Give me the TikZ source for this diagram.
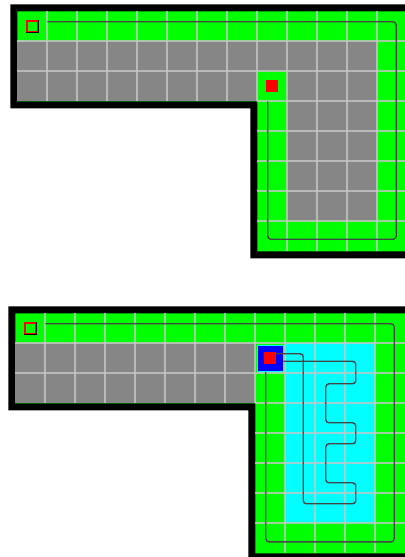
\documentclass[tikz,border=0pt]{standalone}
\usepackage{xcolor}
\usepackage{tikz}

\definecolor{freegreen}{RGB}{0,255,0}
\definecolor{wallgray}{RGB}{134,134,134}
\definecolor{seencyan}{RGB}{0,255,255}
\definecolor{trackgray}{RGB}{70,70,70}

\begin{document}
\begin{tikzpicture}[
  x=1cm, y=-1cm,
  border/.style={fill=black},
  freecell/.style={fill=freegreen},
  wallcell/.style={fill=wallgray},
  seencell/.style={fill=seencyan},
  gridline/.style={draw=gray!45, opacity=0.8, line width=1.8pt},
  track/.style={draw=trackgray, line width=1.3pt, rounded corners=3pt},
  startmark/.style={rectangle, draw=red, line width=1.5pt, fill=freegreen,
                    minimum size=0.34cm, inner sep=0pt,
                    preaction={draw=black, line width=2.6pt}},
  goalmark/.style={rectangle, fill=red, minimum size=0.4cm, inner sep=0pt},
  robotmark/.style={rectangle, fill=blue, draw=seencyan, line width=0.6pt,
                    minimum size=0.85cm, inner sep=0pt},
]
  \useasboundingbox (0,0) rectangle (13.5,18.567);

  % -- Panel 1: planned route --
  \begin{scope}[shift={(0.577,0.377)}]
    \fill[border] (-0.233,-0.233) -- (13.233,-0.233) -- (13.233,8.233)
      -- (7.767,8.233) -- (7.767,3.233) -- (-0.233,3.233) -- cycle;
    \fill[freecell] (0,0) -- (13,0) -- (13,8) -- (8,8) -- (8,3) -- (0,3) -- cycle;
    \fill[wallcell] (0,1) rectangle (12,2);
    \fill[wallcell] (0,2) rectangle (8,3);
    \fill[wallcell] (9,2) rectangle (12,7);

    % grid
    \foreach \i in {1,...,8} \draw[gridline] (\i,0) -- (\i,3);
    \foreach \i in {9,...,12} \draw[gridline] (\i,0) -- (\i,8);
    \foreach \j in {1,2} \draw[gridline] (0,\j) -- (13,\j);
    \foreach \j in {3,...,7} \draw[gridline] (8,\j) -- (13,\j);

    % route round the free cells
    \coordinate (out1) at (1,0.35);
    \coordinate (in1) at (8.35,3);
    \draw[track] (out1) -- (12.63,0.35) -- (12.63,7.6) -- (8.35,7.6) -- (in1);

    \node[startmark] (start1) at (0.5,0.5) {};
    \node[goalmark] (goal1) at (8.5,2.5) {};
  \end{scope}

  % -- Panel 2: explored area --
  \begin{scope}[shift={(0.51,10.443)}]
    \fill[border] (-0.233,-0.233) -- (13.233,-0.233) -- (13.233,8.233)
      -- (7.767,8.233) -- (7.767,3.233) -- (-0.233,3.233) -- cycle;
    \fill[freecell] (0,0) -- (13,0) -- (13,8) -- (8,8) -- (8,3) -- (0,3) -- cycle;
    \fill[wallcell] (0,1) rectangle (8,3);
    \fill[seencell] (9,1) rectangle (12,7);

    % grid
    \foreach \i in {1,...,8} \draw[gridline] (\i,0) -- (\i,3);
    \foreach \i in {9,...,12} \draw[gridline] (\i,0) -- (\i,8);
    \foreach \j in {1,2} \draw[gridline] (0,\j) -- (13,\j);
    \foreach \j in {3,...,7} \draw[gridline] (8,\j) -- (13,\j);

    % outer route
    \coordinate (out2) at (1,0.35);
    \coordinate (in2) at (8.35,1.933);
    \draw[track] (out2) -- (12.63,0.35) -- (12.63,7.62) -- (8.35,7.62) -- (in2);

    \node[robotmark] (robot) at (8.5,1.5) {};

    % sweep through the cyan block
    \coordinate (back2) at (8.933,1.6);
    \draw[track] (8.5,1.35) -- (9.6,1.35) -- (9.6,6.35) -- (11.35,6.35)
      -- (11.35,5.65) -- (10.35,5.65) -- (10.35,4.35) -- (11.35,4.35)
      -- (11.35,3.65) -- (10.35,3.65) -- (10.35,2.35) -- (11.35,2.35)
      -- (11.35,1.6) -- (back2);

    \node[startmark] (start2) at (0.5,0.5) {};
    \node[goalmark] (goal2) at (robot) {};
  \end{scope}

\end{tikzpicture}
\end{document}
